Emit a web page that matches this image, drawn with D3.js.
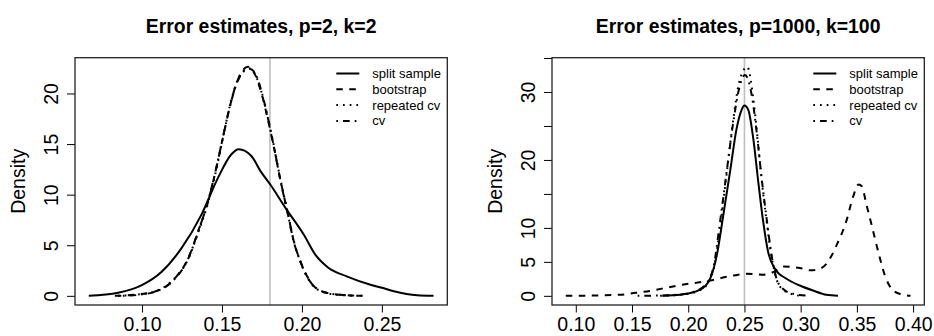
<!DOCTYPE html>
<html>
<head>
<meta charset="utf-8">
<script src="https://cdn.jsdelivr.net/npm/d3@7"></script>
<style>
body { margin: 0; background: #fff; }
svg { display: block; font-family: "Liberation Sans", Arial, Helvetica, sans-serif; }
.title { font-weight: bold; font-size: 19.4px; }
.axis text { font-size: 19.5px; fill: #000; }
.axis line { stroke: #000; }
.ylab { font-size: 19.5px; }
.legend text { font-size: 13px; }
.curve { fill: none; stroke: #000; stroke-width: 2; }
</style>
</head>
<body>
<svg id="chart" width="934" height="336"></svg>
<script>
// legend entries, in drawing order
const seriesNames = ['split sample', 'bootstrap', 'repeated cv', 'cv'];

const panelTitles = ['Error estimates, p=2, k=2', 'Error estimates, p=1000, k=100'];
const trueError = [0.18, 0.25];

const leftXTicks = [0.10, 0.15, 0.20, 0.25];
const rightXTicks = [0.10, 0.15, 0.20, 0.25, 0.30, 0.35, 0.40];
const leftYTicks = [0, 5, 10, 15, 20];
const rightYTicks = [0, 5, 10, 15, 20, 25, 30, 35];
const rightYLabels = [0, 5, 10, 20, 30];

// density curves: [error, density]
const leftSplit = [[0.0667, 0], [0.085, 0.3], [0.0996, 1.03], [0.1121, 2.35], [0.1246, 4.69], [0.1371, 8.0],
    [0.1475, 11.66], [0.1559, 13.99], [0.1604, 14.49], [0.1684, 13.82], [0.1742, 12.3], [0.1802, 11.0],
    [0.1898, 8.67], [0.2013, 6.01], [0.2086, 4.02], [0.2159, 2.86], [0.2284, 1.9], [0.2429, 1.1],
    [0.25, 0.8], [0.2575, 0.45], [0.2721, 0.05], [0.2823, 0]];
const leftBoot = [[0.083, 0], [0.095, 0.1], [0.11, 0.53], [0.1204, 1.7], [0.1288, 3.69], [0.135, 6.34],
    [0.1413, 9.33], [0.1465, 12.66], [0.1506, 15.65], [0.1548, 18.64], [0.159, 20.97], [0.1631, 22.3],
    [0.1663, 22.63], [0.1704, 21.96], [0.1742, 20.3], [0.1784, 17.65], [0.1825, 14.66], [0.1867, 11.33],
    [0.1909, 8.34], [0.195, 5.34], [0.1992, 3.35], [0.2054, 1.36], [0.2138, 0.36], [0.2242, 0.1], [0.2378, 0]];
const leftRepCv = [[0.085, 0], [0.097, 0.12], [0.11, 0.55], [0.1204, 1.75], [0.1288, 3.6], [0.135, 6.2],
    [0.1413, 9.2], [0.1465, 12.5], [0.1506, 15.6], [0.1548, 18.7], [0.159, 21.0], [0.1631, 22.2],
    [0.1668, 22.5], [0.1704, 22.0], [0.1742, 20.4], [0.1784, 17.8], [0.1825, 14.8], [0.1867, 11.4],
    [0.1909, 8.4], [0.195, 5.4], [0.1992, 3.3], [0.2054, 1.3], [0.2138, 0.35], [0.2242, 0.08], [0.236, 0]];
const leftCv = [[0.088, 0], [0.098, 0.1], [0.11, 0.5], [0.1204, 1.65], [0.1288, 3.65], [0.135, 6.3],
    [0.1413, 9.4], [0.1465, 12.7], [0.1506, 15.7], [0.1548, 18.6], [0.159, 20.9], [0.1631, 22.1],
    [0.1672, 22.45], [0.1704, 22.1], [0.1742, 20.5], [0.1784, 17.8], [0.1825, 14.7], [0.1867, 11.3],
    [0.1909, 8.3], [0.195, 5.3], [0.1992, 3.3], [0.2054, 1.35], [0.2138, 0.38], [0.2242, 0.1], [0.2378, 0]];

const rightSplit = [[0.1769, 0], [0.1928, 0.15], [0.2106, 0.9], [0.2194, 2.5], [0.2254, 5.96], [0.2312, 11.87],
    [0.2372, 18.27], [0.2431, 24.68], [0.2475, 27.38], [0.2499, 28.02], [0.2534, 27.38], [0.2578, 23.2],
    [0.2623, 16.79], [0.2667, 10.88], [0.2711, 6.44], [0.2771, 3.99], [0.2874, 2.51], [0.2992, 1.52],
    [0.311, 0.78], [0.3229, 0.15], [0.3332, 0]];
const rightBoot = [[0.0911, 0], [0.1385, 0.15], [0.1532, 0.44], [0.168, 0.78], [0.1828, 1.27], [0.1946, 1.62],
    [0.2194, 2.26], [0.2372, 2.9], [0.252, 3.25], [0.2667, 3.1], [0.2756, 3.49], [0.285, 4.3], [0.2992, 4.1],
    [0.3084, 3.75], [0.3172, 4.0], [0.3229, 4.7], [0.3318, 7.4], [0.3406, 11.0], [0.3465, 14.5],
    [0.3515, 16.4], [0.3545, 16.1], [0.3584, 13.5], [0.363, 10.5], [0.369, 6.5], [0.3749, 3.0],
    [0.381, 1.0], [0.388, 0.3], [0.3977, 0]];
const rightRepCv = [[0.175, 0], [0.195, 0.2], [0.21, 0.8], [0.218, 2.0], [0.2224, 3.8], [0.2283, 10.0],
    [0.2342, 18.0], [0.2401, 26.0], [0.2454, 31.5], [0.2525, 33.7], [0.2575, 29.5], [0.2615, 23.5],
    [0.2655, 16.8], [0.2697, 11.0], [0.2741, 5.8], [0.2786, 2.4], [0.2844, 0.9], [0.2933, 0.2], [0.3, 0]];
const rightCv = [[0.155, 0], [0.19, 0.15], [0.205, 0.6], [0.215, 1.6], [0.2224, 4.2], [0.2283, 10.9],
    [0.2342, 18.3], [0.2401, 25.6], [0.2454, 30.6], [0.2505, 32.5], [0.2564, 29.6], [0.2608, 24.2],
    [0.2653, 17.3], [0.2697, 11.4], [0.2741, 6.0], [0.2786, 2.5], [0.2844, 1.0], [0.2933, 0.3], [0.308, 0]];

const dashes = [null, '6.5,6.5', '1.7,5', '1.7,5,6.7,5'];

const panels = [
    { left: 75, series: [leftSplit, leftBoot, leftRepCv, leftCv], xTicks: leftXTicks, yTicks: leftYTicks, yLabels: leftYTicks },
    { left: 552, series: [rightSplit, rightBoot, rightRepCv, rightCv], xTicks: rightXTicks, yTicks: rightYTicks, yLabels: rightYLabels }
];
const boxW = 372.3, plotTop = 57.7, plotBottom = 305;

// R pads the data range by 4% on each side
function padded(lo, hi) {
    const pad = (hi - lo) * 0.04;
    return [lo - pad, hi + pad];
}

function drawPanel(p, i) {
    const g = d3.select('#chart').append('g');
    const all = p.series.flat();

    const x = d3.scaleLinear()
        .domain(padded(d3.min(all, d => d[0]), d3.max(all, d => d[0])))
        .range([p.left, p.left + boxW]);
    const y = d3.scaleLinear()
        .domain(padded(0, d3.max(all, d => d[1])))
        .range([plotBottom, plotTop]);

    g.append('text')
        .classed('title', true)
        .attr('x', p.left + boxW / 2)
        .attr('y', 33.3)
        .attr('text-anchor', 'middle')
        .text(panelTitles[i]);

    // x axis
    g.append('g')
        .classed('axis', true)
        .attr('transform', `translate(0, ${plotBottom})`)
        .call(d3.axisBottom(x).tickValues(p.xTicks).tickFormat(d3.format('.2f')).tickSize(7.5).tickPadding(4.5))
        .call(a => a.select('.domain').remove());

    // y axis, labels parallel to the axis
    g.append('g')
        .classed('axis', true)
        .attr('transform', `translate(${p.left}, 0)`)
        .call(d3.axisLeft(y).tickValues(p.yTicks).tickSize(8)
            .tickFormat(d => p.yLabels.includes(d) ? d : ''))
        .call(a => a.select('.domain').remove())
        .selectAll('text')
        .attr('transform', 'rotate(-90)')
        .attr('x', 0)
        .attr('y', -16.7)
        .attr('dy', 0)
        .attr('text-anchor', 'middle');

    g.append('text')
        .classed('ylab', true)
        .attr('transform', `translate(${p.left - 50}, ${(plotTop + plotBottom) / 2}) rotate(-90)`)
        .attr('text-anchor', 'middle')
        .text('Density');

    g.append('line')
        .attr('x1', x(trueError[i])).attr('x2', x(trueError[i]))
        .attr('y1', plotTop).attr('y2', plotBottom)
        .attr('stroke', '#bebebe')
        .attr('stroke-width', 1.6);

    const line = d3.line()
        .x(d => x(d[0]))
        .y(d => y(d[1]))
        .curve(d3.curveMonotoneX);

    g.selectAll('.curve')
        .data(p.series)
        .join('path')
        .classed('curve', true)
        .attr('d', line)
        .attr('stroke-dasharray', (d, j) => dashes[j]);

    g.append('rect')
        .attr('x', p.left).attr('y', plotTop)
        .attr('width', boxW).attr('height', plotBottom - plotTop)
        .attr('fill', 'none')
        .attr('stroke', '#222')
        .attr('stroke-width', 1.3);

    const right = p.left + boxW;
    const leg = g.append('g').classed('legend', true);
    seriesNames.forEach((name, j) => {
        const ly = 73.5 + j * 15.8;
        leg.append('line')
            .attr('x1', right - 111).attr('x2', right - 88)
            .attr('y1', ly).attr('y2', ly)
            .attr('stroke', '#000')
            .attr('stroke-width', 2)
            .attr('stroke-dasharray', dashes[j]);
        leg.append('text')
            .attr('x', right - 75)
            .attr('y', ly)
            .attr('dy', '0.35em')
            .text(name);
    });
}

panels.forEach(drawPanel);
</script>
</body>
</html>
